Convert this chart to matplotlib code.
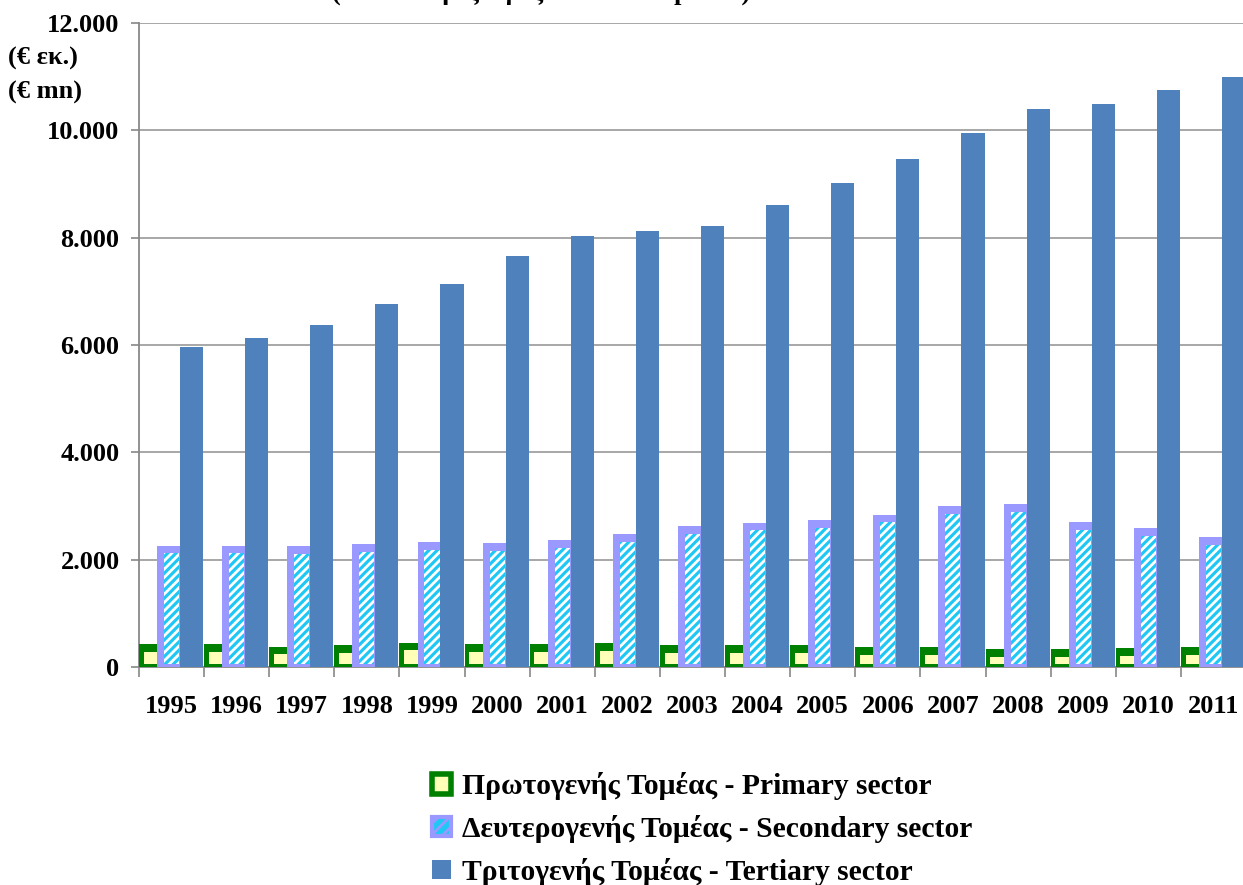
import matplotlib
matplotlib.use("Agg")
import matplotlib.pyplot as plt
from matplotlib.patches import Patch
import numpy as np

years = ["1995", "1996", "1997", "1998", "1999", "2000", "2001", "2002", "2003",
         "2004", "2005", "2006", "2007", "2008", "2009", "2010", "2011"]
primary = [429, 423, 379, 404, 453, 423, 423, 447, 404, 410, 410, 373, 367, 335, 335, 354, 367]
secondary = [2258, 2258, 2255, 2292, 2323, 2304, 2360, 2472, 2621, 2689, 2739, 2838, 2997,
             3037, 2702, 2590, 2422]
tertiary = [5963, 6130, 6372, 6764, 7136, 7658, 8031, 8124, 8217, 8608, 9018, 9465, 9950,
            10397, 10490, 10751, 10993]
yticks = [0, 2000, 4000, 6000, 8000, 10000, 12000]
ytick_labels = ["0", "2.000", "4.000", "6.000", "8.000", "10.000", "12.000"]
legend_labels = ["Πρωτογενής Τομέας - Primary sector",
                 "Δευτερογενής Τομέας - Secondary sector",
                 "Τριτογενής Τομέας - Tertiary sector"]
unit_labels = ["(€ εκ.)", "(€ mn)"]
title_text = "(Σε σταθερές τιμές - Constant prices)"

plt.rcParams['font.family'] = ['Liberation Serif', 'DejaVu Serif']
plt.rcParams['font.weight'] = 'bold'
plt.rcParams['hatch.linewidth'] = 2.0

W, H = 1243, 885
fig = plt.figure(figsize=(W / 100, H / 100), dpi=100)
ax_left, ax_right, ax_top, ax_bot = 139, 1246, 23, 667
ax = fig.add_axes([ax_left / W, 1 - ax_bot / H, (ax_right - ax_left) / W, (ax_bot - ax_top) / H])

n = len(years)
x = np.arange(n)
GREEN = '#008000'
YELLOW = '#ffffb8'
LAV = '#9999ff'
CYAN = '#1ec8f5'
BLUE = '#4f81bd'

# geometry in category units
p0, p1 = 0.0, 0.277
s0, s1 = 0.277, 0.630
t0, t1 = 0.630, 0.985
inset_bot = 56
inset_top = 143

prim = np.array(primary)
sec = np.array(secondary)
ter = np.array(tertiary)

ax.bar(x + p0, prim, width=p1 - p0, align='edge', color=GREEN, zorder=3)
ax.bar(x + p0 + 0.072, prim - inset_top - inset_bot, bottom=inset_bot, width=p1 - p0 - 0.072,
       align='edge', color=YELLOW, zorder=4)
ax.bar(x + s0, sec, width=s1 - s0, align='edge', color=LAV, zorder=3)
ax.bar(x + s0 + 0.107, sec - inset_top - inset_bot, bottom=inset_bot, width=(s1 - s0) - 0.107 - 0.015,
       align='edge', facecolor=CYAN, edgecolor='white', linewidth=0, hatch='////', zorder=4)
ax.bar(x + t0, ter, width=t1 - t0, align='edge', color=BLUE, zorder=3)

ax.set_xlim(0, n)
ax.set_ylim(0, 12000)
ax.set_yticks(yticks)
ax.set_yticklabels(ytick_labels, fontsize=19, fontweight='bold')
ax.set_xticks(np.arange(n + 1))
ax.set_xticklabels([])
ax.set_xticks(x + 0.5, minor=True)
ax.set_xticklabels(years, minor=True, fontsize=19, fontweight='bold')
ax.tick_params(axis='x', which='minor', length=0, pad=20)
ax.tick_params(axis='x', which='major', length=7, color='#888888', width=1.2, direction='out')
ax.tick_params(axis='y', length=6, color='#888888', width=1.2, direction='out', pad=8)
ax.yaxis.grid(True, color='#a0a0a0', linewidth=1.3, zorder=0)
ax.set_axisbelow(True)
for side in ['top', 'right']:
    ax.spines[side].set_visible(False)
for side in ['left', 'bottom']:
    ax.spines[side].set_color('#888888')
    ax.spines[side].set_linewidth(1.3)

# unit labels
fig.text(8 / W, 1 - 58 / H, unit_labels[0], fontsize=19, fontweight='bold', va='center', ha='left')
fig.text(8 / W, 1 - 92 / H, unit_labels[1], fontsize=19, fontweight='bold', va='center', ha='left')

# title, mostly cut off at the top edge as in the reference
fig.text(541 / W, 1 + 0.5 / H, title_text, fontsize=19,
         fontweight='bold', ha='center', va='baseline')

handles = [
    Patch(facecolor=YELLOW, edgecolor=GREEN, linewidth=4),
    Patch(facecolor=CYAN, edgecolor=LAV, linewidth=3, hatch='///'),
    Patch(facecolor=BLUE, edgecolor=BLUE, linewidth=0),
]
leg = fig.legend(handles, legend_labels, loc='center', bbox_to_anchor=(702 / W, 1 - 829 / H),
                 frameon=False, prop={'weight': 'bold', 'size': 21.3},
                 handlelength=0.65, handleheight=0.65, handletextpad=0.35, labelspacing=0.5)

fig.savefig("out.png", dpi=100)
